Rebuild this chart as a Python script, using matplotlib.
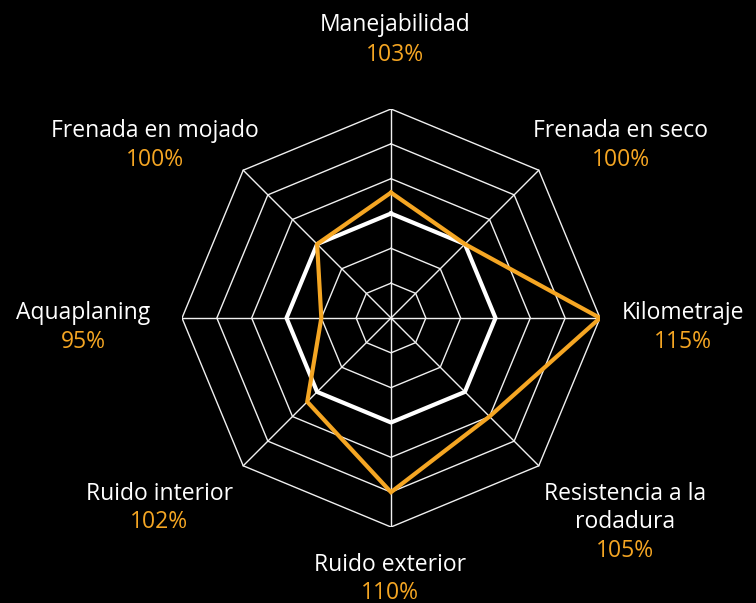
import matplotlib
matplotlib.use("Agg")
import matplotlib.pyplot as plt
import numpy as np

# categories clockwise from the top
categories = [
    "Manejabilidad", "Frenada en seco", "Kilometraje", "Resistencia a la\nrodadura",
    "Ruido exterior", "Ruido interior", "Aquaplaning", "Frenada en mojado",
]
product = [103, 100, 115, 105, 110, 102, 95, 100]
reference = [100, 100, 100, 100, 100, 100, 100, 100]
pct_labels = ["103%", "100%", "115%", "105%", "110%", "102%", "95%", "100%"]
ring_levels = [90, 95, 100, 105, 110, 115]
r_min, r_max = 85, 115

# label offsets (pixels) from each outer vertex: name centre, pct centre
name_off = [(4, 84), (82, 39), (83, 5), (86, -42), (-1, -38), (-84, -28), (-99, 5), (-88, 39)]
pct_off = [(4, 54), (82, 10), (83, -24), (86, -85), (-1, -66), (-84, -56), (-99, -24), (-88, 10)]

ORANGE = "#F5A623"
BG = "black"

plt.rcParams["font.family"] = ["Open Sans", "DejaVu Sans"]

n = len(categories)
theta = np.arange(n) * 2 * np.pi / n


def to_xy(values):
    r = np.asarray(values, dtype=float) - r_min
    r = np.append(r, r[0])
    t = np.append(theta, theta[0])
    return r * np.sin(t), r * np.cos(t)


R = r_max - r_min
fig = plt.figure(figsize=(7.56, 6.03), dpi=100, facecolor=BG)
# centre at (391, 318) px, radius 209 px
ax = fig.add_axes([(391 - 209) / 756, (603 - 318 - 209) / 603, 418 / 756, 418 / 603])
ax.set_facecolor(BG)
ax.set_xlim(-R, R)
ax.set_ylim(-R, R)
ax.set_aspect("equal")
ax.axis("off")

# grid rings and spokes
for lvl in ring_levels:
    x, y = to_xy([lvl] * n)
    ax.plot(x, y, color="#f0f0f0", lw=1.0, zorder=1)
for t in theta:
    ax.plot([0, R * np.sin(t)], [0, R * np.cos(t)], color="#f0f0f0", lw=1.0, zorder=1)

x, y = to_xy(reference)
ax.plot(x, y, color="white", lw=3, zorder=3)
x, y = to_xy(product)
ax.plot(x, y, color=ORANGE, lw=3, zorder=4, solid_joinstyle="miter")

for i in range(n):
    vx, vy = R * np.sin(theta[i]), R * np.cos(theta[i])
    ax.annotate(categories[i], (vx, vy), xytext=name_off[i], textcoords="offset pixels",
                ha="center", va="center", color="white", fontsize=16.5,
                linespacing=1.2, annotation_clip=False)
    ax.annotate(pct_labels[i], (vx, vy), xytext=pct_off[i], textcoords="offset pixels",
                ha="center", va="center", color=ORANGE, fontsize=16.5,
                annotation_clip=False)

fig.savefig("out.png", dpi=100, facecolor=BG)
